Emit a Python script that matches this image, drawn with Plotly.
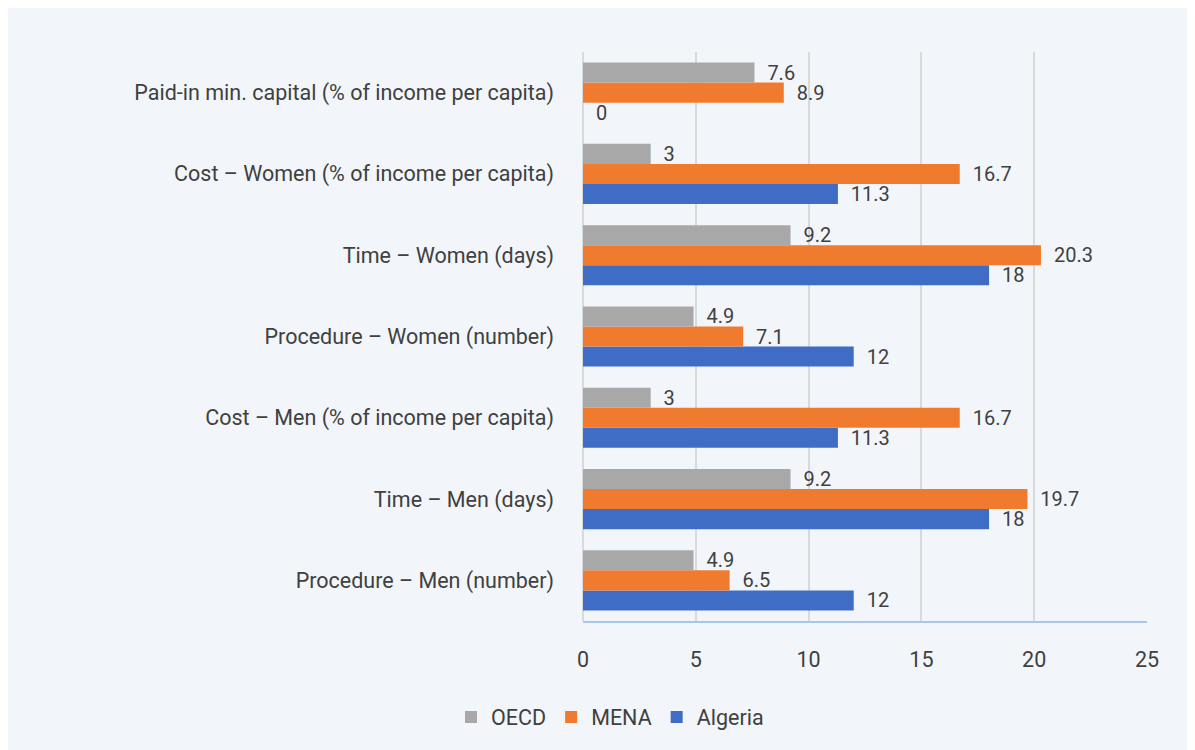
import plotly.graph_objects as go

categories = [
    "Procedure – Men (number)",
    "Time – Men (days)",
    "Cost – Men (% of income per capita)",
    "Procedure – Women (number)",
    "Time – Women (days)",
    "Cost – Women (% of income per capita)",
    "Paid-in min. capital (% of income per capita)",
]
algeria = [12, 18, 11.3, 12, 18, 11.3, 0]
mena = [6.5, 19.7, 16.7, 7.1, 20.3, 16.7, 8.9]
oecd = [4.9, 9.2, 3, 4.9, 9.2, 3, 7.6]

series = [
    ("Algeria", algeria, "#3F6DC6"),
    ("MENA", mena, "#F07B2E"),
    ("OECD", oecd, "#A8A8A8"),
]

FONT = "Roboto"
TXT = "#404040"
FS = 21.5

fig = go.Figure()
for name, vals, col in series:
    fig.add_trace(go.Bar(
        y=categories, x=vals, name=name, orientation="h",
        marker=dict(color=col, line=dict(width=0)),
        text=[f"\u00a0\u00a0{v:g}" for v in vals],
        textposition="outside",
        constraintext="none",
        textfont=dict(family=FONT, size=20, color=TXT),
        cliponaxis=False,
    ))

# page has an 8px body margin; figure pixel = screen pixel - 8
FW, FH = 1187, 742
L, T = 575, 44
R = FW - 1139
B = FH - 613
W = FW - L - R
H = FH - T - B


def px_x(p):
    return (p - 8 - L) / W


def px_y(p):
    return (FH - B - (p - 8)) / H


fig.update_layout(
    width=FW, height=FH,
    margin=dict(l=L, r=R, t=T, b=B),
    paper_bgcolor="#F2F6FA",
    plot_bgcolor="rgba(0,0,0,0)",
    barmode="group",
    bargap=0.26,
    bargroupgap=0,
    font=dict(family=FONT, size=FS, color=TXT),
    showlegend=True,
    legend=dict(orientation="h", traceorder="reversed",
                x=px_x(610), xanchor="center", y=px_y(717), yanchor="middle",
                font=dict(family=FONT, size=FS, color=TXT),
                bgcolor="rgba(0,0,0,0)"),
)
fig.update_xaxes(range=[0, 25], dtick=5, showgrid=True, gridcolor="#D9D9D9",
                 gridwidth=2, zeroline=True, zerolinecolor="#D9D9D9", zerolinewidth=2,
                 showline=True, linecolor="#A9C5EA", linewidth=1.5,
                 ticks="", ticklabelstandoff=18,
                 tickfont=dict(family=FONT, size=FS, color=TXT))
fig.update_yaxes(type="category", categoryorder="array", categoryarray=categories,
                 showgrid=False, ticks="", ticklabelstandoff=28,
                 tickfont=dict(family=FONT, size=FS, color=TXT))

fig.write_html("out.html")
